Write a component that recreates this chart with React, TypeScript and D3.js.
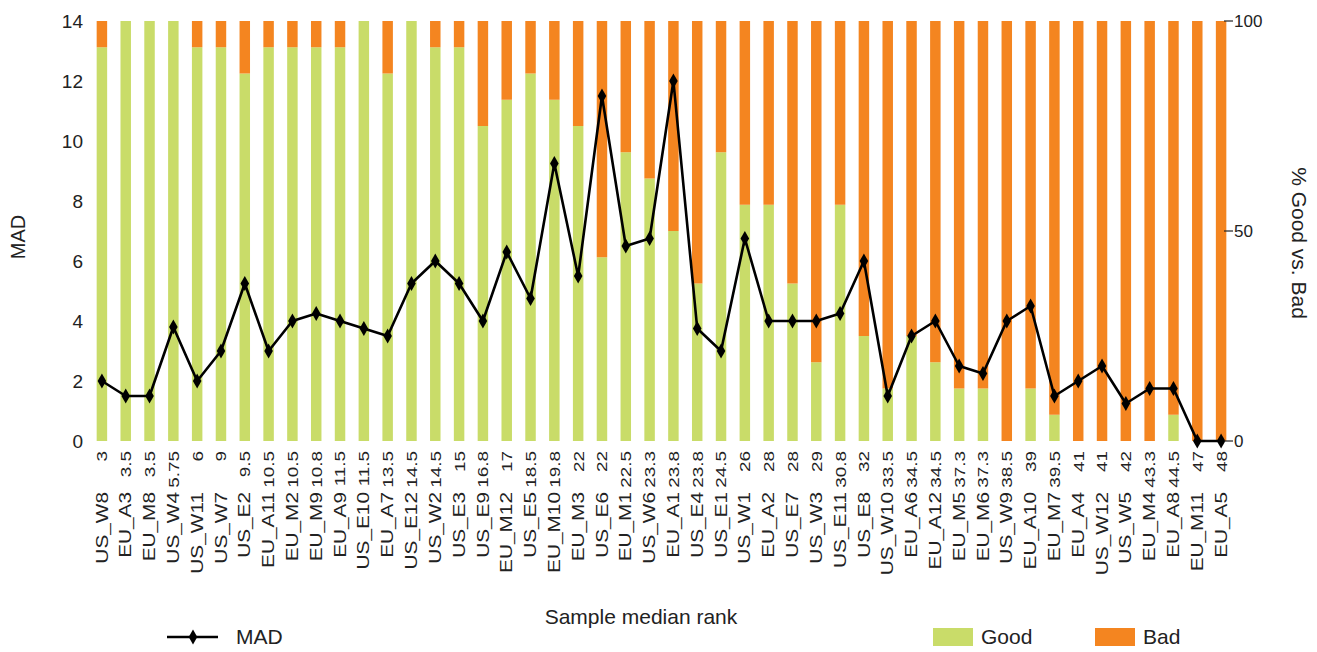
import * as d3 from 'd3';

// sample median rank (first label row) and sample name (second row)
const ranks = ['3', '3.5', '3.5', '5.75', '6', '9', '9.5', '10.5', '10.5', '10.8', '11.5', '11.5', '13.5', '14.5', '14.5', '15',
  '16.8', '17', '18.5', '19.8', '22', '22', '22.5', '23.3', '23.8', '23.8', '24.5', '26', '28', '28', '29', '30.8',
  '32', '33.5', '34.5', '34.5', '37.3', '37.3', '38.5', '39', '39.5', '41', '41', '42', '43.3', '44.5', '47', '48'];

const samples = ['US_W8', 'EU_A3', 'EU_M8', 'US_W4', 'US_W11', 'US_W7', 'US_E2', 'EU_A11', 'EU_M2', 'EU_M9', 'EU_A9', 'US_E10',
  'EU_A7', 'US_E12', 'US_W2', 'US_E3', 'US_E9', 'EU_M12', 'US_E5', 'EU_M10', 'EU_M3', 'US_E6', 'EU_M1', 'US_W6',
  'EU_A1', 'US_E4', 'US_E1', 'US_W1', 'EU_A2', 'US_E7', 'US_W3', 'US_E11', 'US_E8', 'US_W10', 'EU_A6', 'EU_A12',
  'EU_M5', 'EU_M6', 'US_W9', 'EU_A10', 'EU_M7', 'EU_A4', 'US_W12', 'US_W5', 'EU_M4', 'EU_A8', 'EU_M11', 'EU_A5'];

const goodPct = [93.75, 100, 100, 100, 93.75, 93.75, 87.5, 93.75, 93.75, 93.75, 93.75, 100, 87.5, 100, 93.75, 93.75,
  75, 81.25, 87.5, 81.25, 75, 43.75, 68.75, 62.5, 50, 37.5, 68.75, 56.25, 56.25, 37.5, 18.75, 56.25,
  25, 12.5, 25, 18.75, 12.5, 12.5, 0, 12.5, 6.25, 0, 0, 0, 0, 6.25, 0, 0];

const badPct = [6.25, 0, 0, 0, 6.25, 6.25, 12.5, 6.25, 6.25, 6.25, 6.25, 0, 12.5, 0, 6.25, 6.25,
  25, 18.75, 12.5, 18.75, 25, 56.25, 31.25, 37.5, 50, 62.5, 31.25, 43.75, 43.75, 62.5, 81.25, 43.75,
  75, 87.5, 75, 81.25, 87.5, 87.5, 100, 87.5, 93.75, 100, 100, 100, 100, 93.75, 100, 100];

const mad = [2, 1.5, 1.5, 3.8, 2, 3, 5.25, 3, 4, 4.25, 4, 3.75, 3.5, 5.25, 6, 5.25,
  4, 6.3, 4.75, 9.25, 5.5, 11.5, 6.5, 6.75, 12, 3.75, 3, 6.75, 4, 4, 4, 4.25,
  6, 1.5, 3.5, 4, 2.5, 2.25, 4, 4.5, 1.5, 2, 2.5, 1.25, 1.75, 1.75, 0, 0];

const madTicks = [0, 2, 4, 6, 8, 10, 12, 14];
const pctTicks = [0, 50, 100];

const GREEN = '#c9dc69';
const ORANGE = '#f48520';
const FONT = '"Liberation Sans", Arial, sans-serif';

const width = 1317;
const height = 652;
const margin = { top: 21, right: 84, bottom: 211, left: 90 };

export default function App() {
  const x = d3.scaleBand<number>()
    .domain(d3.range(samples.length))
    .range([margin.left, width - margin.right])
    .paddingInner(0.56)
    .paddingOuter(0.28);

  const yMad = d3.scaleLinear().domain([0, 14]).range([height - margin.bottom, margin.top]);
  const yPct = d3.scaleLinear().domain([0, 100]).range([height - margin.bottom, margin.top]);

  const rows = samples.map((name, i) => ({ name, rank: ranks[i], good: goodPct[i], bad: badPct[i], mad: mad[i] }));
  const stack = d3.stack<any>().keys(['good', 'bad'])(rows);
  const colors: Record<string, string> = { good: GREEN, bad: ORANGE };

  const line = d3.line<number>()
    .x((_, i) => x(i)! + x.bandwidth() / 2)
    .y(d => yMad(d));
  const diamond = d3.symbol(d3.symbolDiamond, 64)();

  const rightX = x.range()[1] - 9;

  return (
    <div style={{ position: 'absolute', left: 0, top: 0 }}>
      <svg width={width} height={height} style={{ display: 'block', fontFamily: FONT }}>
        {stack.map(layer => (
          <g key={layer.key} fill={colors[layer.key]}>
            {layer.map((d, i) => (
              <rect key={i} x={x(i)} width={x.bandwidth()}
                y={yPct(d[1])} height={Math.max(0, yPct(d[0]) - yPct(d[1]))} />
            ))}
          </g>
        ))}

        <path d={line(mad) || ''} fill="none" stroke="#000" strokeWidth={2.6} strokeLinejoin="round" />
        {mad.map((v, i) => (
          <path key={i} d={diamond!} fill="#000"
            transform={`translate(${x(i)! + x.bandwidth() / 2},${yMad(v)})`} />
        ))}

        {/* left axis */}
        {madTicks.map(t => (
          <text key={t} x={83} y={yMad(t)} dy="0.35em" textAnchor="end" fontSize={19} fill="#222">{t}</text>
        ))}
        <text transform={`translate(25,237) rotate(-90)`} textAnchor="middle" fontSize={20} fill="#222">MAD</text>

        {/* right axis */}
        {pctTicks.map(t => (
          <g key={t} transform={`translate(${rightX},${yPct(t)})`}>
            <line x1={0} x2={9} stroke="#222" strokeWidth={1.2} />
            <text x={10} dy="0.35em" fontSize={17} fill="#222">{t}</text>
          </g>
        ))}
        <text transform={`translate(1292,243) rotate(90)`} textAnchor="middle" fontSize={21} fill="#222">% Good vs. Bad</text>

        {/* x labels: rank row and sample row */}
        {rows.map((d, i) => {
          const cx = x(i)! + x.bandwidth() / 2;
          return (
            <g key={i}>
              <text transform={`translate(${cx},451) rotate(-90) scale(1.22,1)`} textAnchor="end" dy="0.35em"
                fontSize={15.5} fill="#222">{d.rank}</text>
              <text transform={`translate(${cx},492) rotate(-90) scale(1.3,1)`} textAnchor="end" dy="0.35em"
                fontSize={16} fill="#222">{d.name}</text>
            </g>
          );
        })}

        <text x={641} y={624} textAnchor="middle" fontSize={21} fill="#222">Sample median rank</text>

        {/* legend */}
        <g transform="translate(167,637)">
          <line x1={0} x2={51} stroke="#000" strokeWidth={2.6} />
          <path d={diamond!} transform="translate(26,0)" fill="#000" />
          <text x={69} dy="0.35em" fontSize={21} fill="#222">MAD</text>
        </g>
        <g transform="translate(933,628)">
          <rect width={40} height={18} fill={GREEN} />
          <text x={48} y={9} dy="0.35em" fontSize={21} fill="#222">Good</text>
        </g>
        <g transform="translate(1095,628)">
          <rect width={40} height={18} fill={ORANGE} />
          <text x={48} y={9} dy="0.35em" fontSize={21} fill="#222">Bad</text>
        </g>
      </svg>
    </div>
  );
}
